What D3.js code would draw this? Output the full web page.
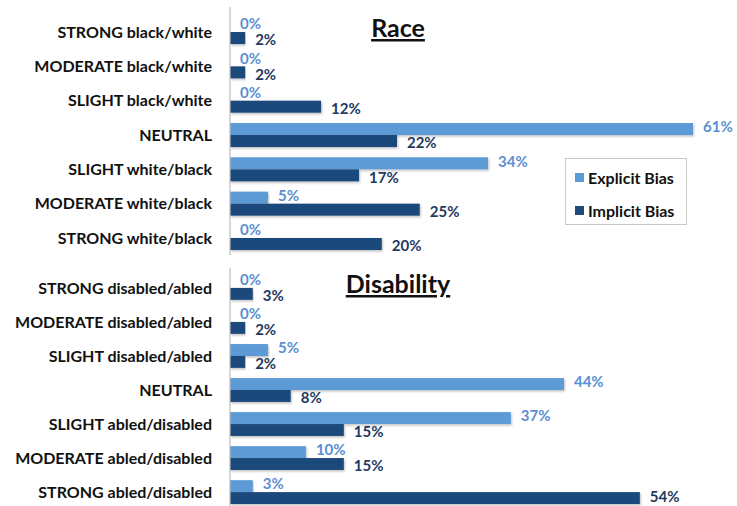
<!DOCTYPE html>
<html>
<head>
<meta charset="utf-8">
<script src="https://cdn.jsdelivr.net/npm/d3@7"></script>
<style>
  body { margin: 0; background: #fff; }
  svg { font-family: Lato, "Open Sans", sans-serif; font-weight: bold; }
  .cat { font-size: 16px; fill: #111; }
  .title { font-size: 25px; fill: #111; text-decoration: underline; }
  .val { font-size: 15px; }
  .legend text { font-size: 16px; fill: #111; }
</style>
</head>
<body>
<div id="chart"></div>
<script>
// race panel
var raceCats = ["STRONG black/white", "MODERATE black/white", "SLIGHT black/white", "NEUTRAL",
    "SLIGHT white/black", "MODERATE white/black", "STRONG white/black"];
var raceExplicit = [0, 0, 0, 61, 34, 5, 0];
var raceImplicit = [2, 2, 12, 22, 17, 25, 20];

// disability panel
var disCats = ["STRONG disabled/abled", "MODERATE disabled/abled", "SLIGHT disabled/abled", "NEUTRAL",
    "SLIGHT abled/disabled", "MODERATE abled/disabled", "STRONG abled/disabled"];
var disExplicit = [0, 0, 5, 44, 37, 10, 3];
var disImplicit = [3, 2, 2, 8, 15, 15, 54];

var seriesNames = ["Explicit Bias", "Implicit Bias"];
var barColors = ["#5b9bd5", "#1f4a7c"];
var labelColors = ["#5a8fd2", "#1e3a60"];

var width = 737, height = 506;
var x0 = 230;

var svg = d3.select("#chart").append("svg")
    .attr("width", width)
    .attr("height", height);

var defs = svg.append("defs");
var f = defs.append("filter").attr("id", "shadow")
    .attr("x", "-5%").attr("y", "-20%").attr("width", "110%").attr("height", "160%");
f.append("feDropShadow").attr("dx", 1).attr("dy", 1.5).attr("stdDeviation", 1)
    .attr("flood-color", "#000").attr("flood-opacity", 0.25);

var x = d3.scaleLinear()
    .domain([0, 61])
    .range([x0, 693]);

function drawPanel (cats, explicit, implicit, title, y0, y1, axisTop, axisBottom, titleY) {
    var rows = cats.map(function(c, i) {
        return {cat: c, values: [explicit[i], implicit[i]]};
    });

    var y = d3.scaleBand()
        .domain(cats)
        .range([y0, y1])
        .paddingInner(0.3)
        .paddingOuter(0);

    var ys = d3.scaleBand()
        .domain(seriesNames)
        .range([0, y.bandwidth()]);

    var g = svg.append("g");

    // category labels
    g.selectAll(".cat")
        .data(rows)
        .enter().append("text")
            .attr("class", "cat")
            .attr("x", 212)
            .attr("y", function(d) { return y(d.cat) + y.bandwidth() / 2; })
            .attr("dy", "0.35em")
            .attr("text-anchor", "end")
            .text(function(d) { return d.cat; });

    var row = g.selectAll(".row")
        .data(rows)
        .enter().append("g")
            .attr("class", "row")
            .attr("transform", function(d) { return "translate(0," + y(d.cat) + ")"; });

    var cells = row.selectAll(".cell")
        .data(function(d) {
            return d.values.map(function(v, j) { return {name: seriesNames[j], j: j, v: v, top: y(d.cat)}; });
        })
        .enter();

    cells.append("rect")
        .attr("x", x(0))
        .attr("y", function(d) { return ys(d.name); })
        .attr("width", function(d) { return x(d.v) - x(0); })
        .attr("height", ys.bandwidth())
        .attr("fill", function(d) { return barColors[d.j]; })
        .attr("filter", "url(#shadow)");

    cells.append("text")
        .attr("class", "val")
        .attr("x", function(d) { return x(d.v) + 10; })
        .attr("y", function(d) {
            var ly = ys(d.name) + ys.bandwidth() / 2 + (d.j == 0 ? -2 : 2);
            // keep the last label inside the picture
            return Math.min(ly, height - 9 - d.top);
        })
        .attr("dy", "0.35em")
        .attr("fill", function(d) { return labelColors[d.j]; })
        .text(function(d) { return d.v + "%"; });

    // vertical axis line
    g.append("line")
        .attr("x1", x0).attr("x2", x0)
        .attr("y1", axisTop).attr("y2", axisBottom)
        .attr("stroke", "#bdbdbd")
        .attr("stroke-width", 1.2);

    g.append("text")
        .attr("class", "title")
        .attr("x", 398)
        .attr("y", titleY)
        .attr("text-anchor", "middle")
        .text(title);
}

drawPanel(raceCats, raceExplicit, raceImplicit, "Race", 20, 250, 7, 255, 37);
drawPanel(disCats, disExplicit, disImplicit, "Disability", 276, 504, 268, 506, 293);

// legend
var legend = svg.append("g").attr("class", "legend");
legend.append("rect")
    .attr("x", 565.5).attr("y", 158.5)
    .attr("width", 121).attr("height", 66)
    .attr("fill", "#fff")
    .attr("stroke", "#c8c8c8");

var li = legend.selectAll(".item")
    .data(seriesNames)
    .enter().append("g")
        .attr("class", "item")
        .attr("transform", function(d, i) { return "translate(575," + (178 + i * 33) + ")"; });

li.append("rect")
    .attr("x", 0).attr("y", -5)
    .attr("width", 9).attr("height", 9)
    .attr("fill", function(d, i) { return barColors[i]; });

li.append("text")
    .attr("x", 13)
    .attr("y", 0)
    .attr("dy", "0.35em")
    .text(function(d) { return d; });
</script>
</body>
</html>
